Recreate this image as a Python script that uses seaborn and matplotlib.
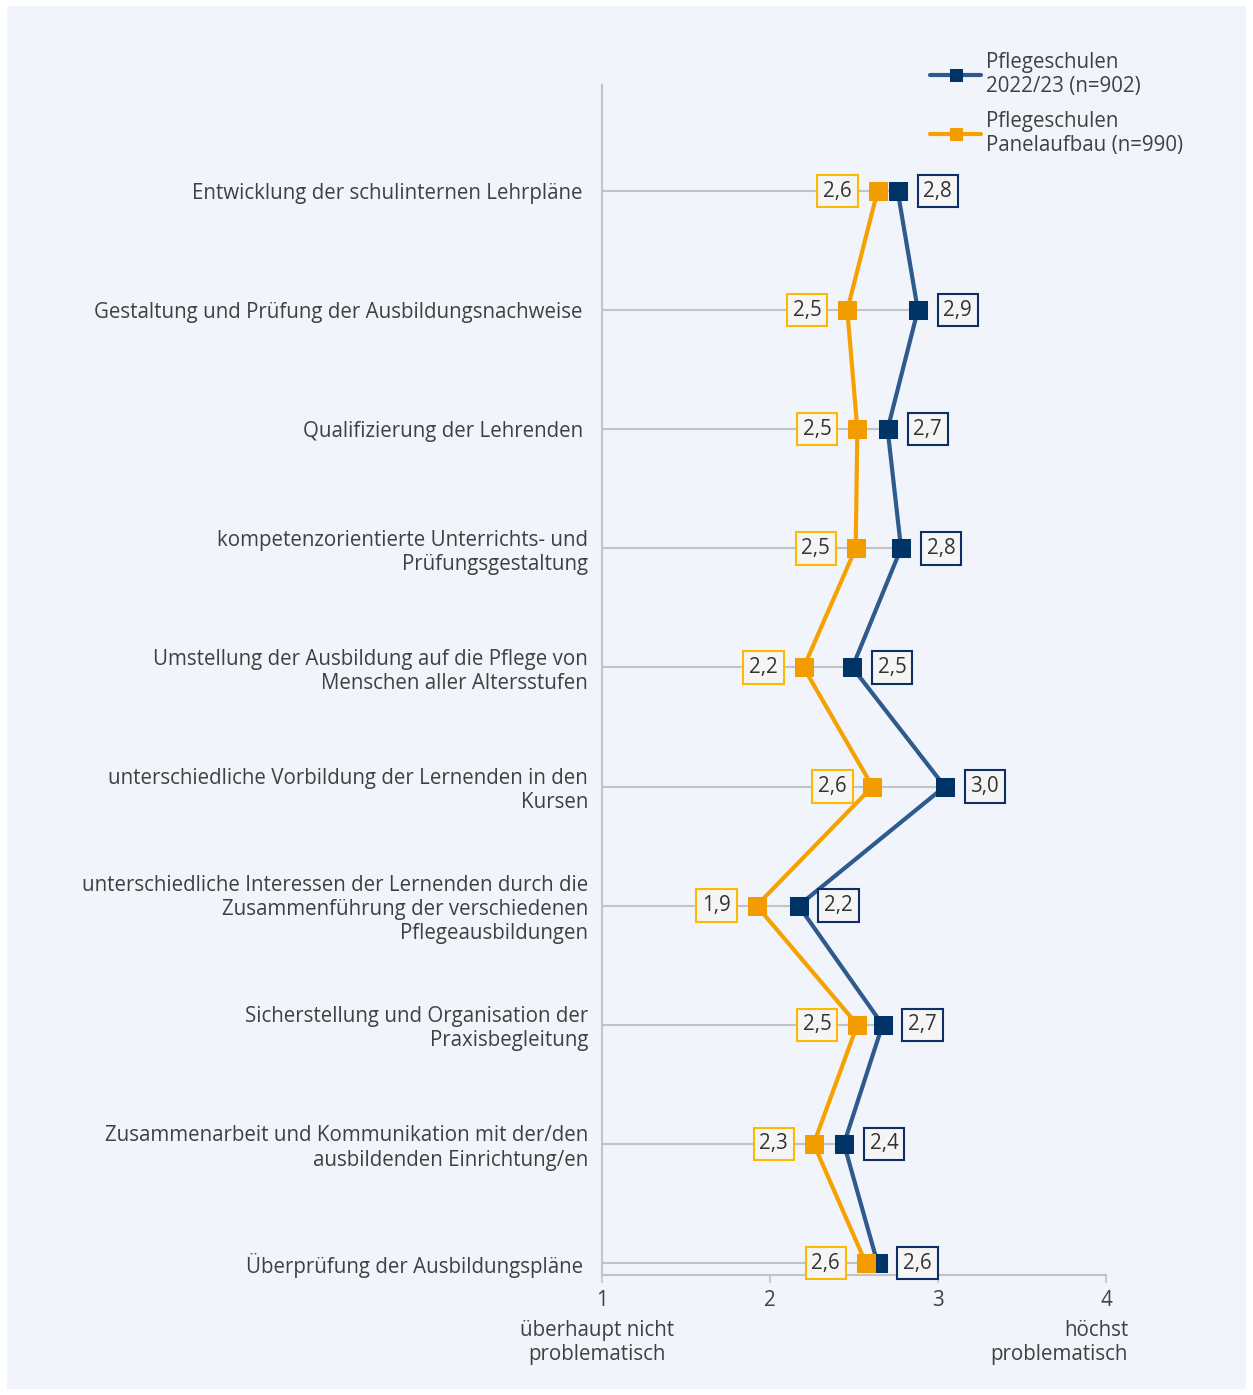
import numpy as np
import pandas as pd
import matplotlib
matplotlib.use("Agg")
import matplotlib.pyplot as plt
import seaborn as sns
from matplotlib.patches import Rectangle

categories = [
    "Entwicklung der schulinternen Lehrpläne ",
    "Gestaltung und Prüfung der Ausbildungsnachweise ",
    "Qualifizierung der Lehrenden ",
    "kompetenzorientierte Unterrichts- und\nPrüfungsgestaltung",
    "Umstellung der Ausbildung auf die Pflege von\nMenschen aller Altersstufen",
    "unterschiedliche Vorbildung der Lernenden in den\nKursen",
    "unterschiedliche Interessen der Lernenden durch die\nZusammenführung der verschiedenen\nPflegeausbildungen",
    "Sicherstellung und Organisation der\nPraxisbegleitung",
    "Zusammenarbeit und Kommunikation mit der/den\nausbildenden Einrichtung/en",
    "Überprüfung der Ausbildungspläne ",
]
blue_vals = [2.76, 2.88, 2.70, 2.78, 2.49, 3.04, 2.17, 2.67, 2.44, 2.64]
orange_vals = [2.64, 2.46, 2.52, 2.51, 2.20, 2.61, 1.92, 2.52, 2.26, 2.57]
series_names = ["Pflegeschulen\n2022/23 (n=902)", "Pflegeschulen\nPanelaufbau (n=990)"]
x_ticks = [1, 2, 3, 4]
x_low_label = "überhaupt nicht\nproblematisch"
x_high_label = "höchst\nproblematisch"

sns.set_theme(style="white")
plt.rcParams["font.family"] = ["Open Sans", "DejaVu Sans"]

FS = 14.8
LS = 1.2
txt_c = "#404040"

W, H = 1253, 1395
fig = plt.figure(figsize=(W / 100, H / 100), dpi=100)
fig.patch.set_facecolor("white")
fig.patches.append(Rectangle((7 / W, 6 / H), (W - 14) / W, (H - 12) / H,
                             transform=fig.transFigure, facecolor="#f1f4fb",
                             edgecolor="none", zorder=-10))

ax = fig.add_axes([602 / W, (H - 1275) / H, (1106 - 602) / W, (1275 - 85) / H])
ax.set_facecolor("none")

idx = np.arange(len(categories))
df_b = pd.DataFrame({"value": blue_vals, "pos": idx})
df_o = pd.DataFrame({"value": orange_vals, "pos": idx})

grid_c = "#c3c3c3"
ax.hlines(idx, 1, np.maximum(blue_vals, orange_vals), color=grid_c, lw=1.5, zorder=1)

blue_line, blue_mark = "#2e5a8c", "#003366"
or_line, or_mark = "#f5a200", "#f39c00"

sns.lineplot(data=df_b, x="value", y="pos", orient="y", sort=False, ax=ax,
             color=blue_line, lw=3, marker="s", markersize=13,
             markerfacecolor=blue_mark, markeredgecolor=blue_mark,
             label=series_names[0], zorder=3)
sns.lineplot(data=df_o, x="value", y="pos", orient="y", sort=False, ax=ax,
             color=or_line, lw=3, marker="s", markersize=13,
             markerfacecolor=or_mark, markeredgecolor=or_mark,
             label=series_names[1], zorder=4)

def fmt(v):
    return f"{v:.1f}".replace(".", ",")

for i in idx:
    ax.annotate(fmt(orange_vals[i]), xy=(orange_vals[i], i), xytext=(-40, 0),
                textcoords="offset pixels", ha="center", va="center",
                fontsize=FS, color="#333333", zorder=5,
                bbox=dict(boxstyle="square,pad=0.28", fc="#f5f5f5",
                          ec="#fbb900", lw=1.5))
    ax.annotate(fmt(blue_vals[i]), xy=(blue_vals[i], i), xytext=(40, 0),
                textcoords="offset pixels", ha="center", va="center",
                fontsize=FS, color="#333333", zorder=5,
                bbox=dict(boxstyle="square,pad=0.28", fc="#f5f5f5",
                          ec="#0d2f66", lw=1.5))

step = (1263 - 191) / 9
ax.set_ylim(9 + 12 / step, -(191 - 85) / step)
ax.set_xlim(1, 4)
ax.set_yticks(idx)
ax.set_yticklabels(categories, fontsize=FS, color=txt_c, linespacing=LS)
ax.set_xticks(x_ticks)
ax.set_xticklabels([str(t) for t in x_ticks], fontsize=FS, color=txt_c)
ax.tick_params(axis="y", length=0, pad=10)
ax.tick_params(axis="x", length=6, width=1.2, color=grid_c, direction="out", pad=5, bottom=True)
ax.set_xlabel("")
ax.set_ylabel("")
for s in ["top", "right"]:
    ax.spines[s].set_visible(False)
for s in ["left", "bottom"]:
    ax.spines[s].set_color(grid_c)
    ax.spines[s].set_linewidth(1.5)

ax.annotate(x_low_label, xy=(1, 0), xycoords=("data", "axes fraction"),
            xytext=(-5, -45), textcoords="offset pixels", ha="center", va="top",
            multialignment="center", fontsize=FS, color=txt_c, linespacing=LS)
ax.annotate(x_high_label, xy=(4, 0), xycoords=("data", "axes fraction"),
            xytext=(22, -45), textcoords="offset pixels", ha="right", va="top",
            multialignment="right", fontsize=FS, color=txt_c, linespacing=LS)

leg = ax.legend(loc="upper left", bbox_to_anchor=(930 / W, 1 - 52 / H),
                bbox_transform=fig.transFigure, frameon=False, fontsize=FS,
                handlelength=2.5, handletextpad=0.2, labelspacing=0.65,
                borderpad=0, borderaxespad=0)
for t in leg.get_texts():
    t.set_color(txt_c)
    t.set_linespacing(LS)
for h in leg.legend_handles:
    h.set_markersize(9)

fig.savefig("out.png", dpi=100)
